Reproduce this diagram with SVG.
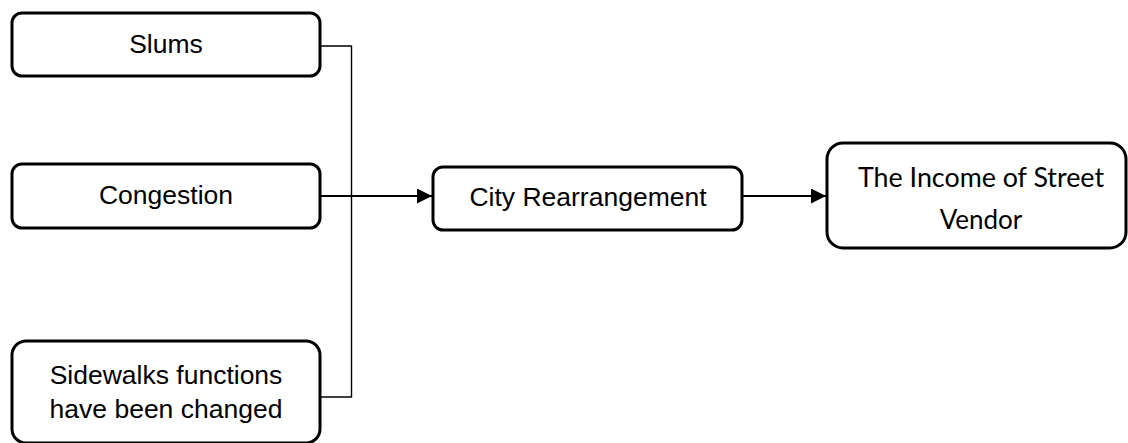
<svg xmlns="http://www.w3.org/2000/svg" width="1128" height="443" viewBox="0 0 1128 443">
<defs>
<style>
.box{fill:#fff;stroke:#000;stroke-width:3}
.t{font-family:"Liberation Sans",Arial,sans-serif;font-size:26.5px;fill:#000;text-anchor:middle}
.c{font-family:Lato,"Open Sans",sans-serif;font-size:26px;fill:#000;text-anchor:middle}
.thin{fill:none;stroke:#000;stroke-width:1.4}
.arr{fill:none;stroke:#000;stroke-width:2}
</style>
<marker id="ah" viewBox="0 0 15 15" refX="15" refY="7.5" markerWidth="15" markerHeight="15" markerUnits="userSpaceOnUse" orient="auto">
<path d="M0,0 L15,7.5 L0,15 Z" fill="#000"/>
</marker>
</defs>
<rect width="1128" height="443" fill="#fff"/>
<g id="connectors">
<polyline class="thin" points="320,46 351.5,46 351.5,397 320,397"/>
<line class="arr" x1="320" y1="196" x2="432" y2="196" marker-end="url(#ah)"/>
<line class="arr" x1="742" y1="196" x2="826" y2="196" marker-end="url(#ah)"/>
</g>
<g id="slums">
<rect class="box" x="12" y="13" width="308" height="63" rx="10"/>
<text class="t" x="166" y="53">Slums</text>
</g>
<g id="congestion">
<rect class="box" x="12" y="164" width="308" height="64" rx="10"/>
<text class="t" x="166" y="204">Congestion</text>
</g>
<g id="sidewalks">
<rect class="box" x="12" y="341" width="308" height="102" rx="14"/>
<text class="t" x="166" y="384">Sidewalks functions</text>
<text class="t" x="166" y="418">have been changed</text>
</g>
<g id="city">
<rect class="box" x="433" y="167" width="309" height="63" rx="10"/>
<text class="t" x="588" y="206">City Rearrangement</text>
</g>
<g id="income">
<rect class="box" x="827" y="143" width="299" height="105" rx="16"/>
<text class="c" x="981" y="187" textLength="246" lengthAdjust="spacingAndGlyphs">The Income of Street</text>
<text class="c" x="981" y="229">Vendor</text>
</g>
</svg>
